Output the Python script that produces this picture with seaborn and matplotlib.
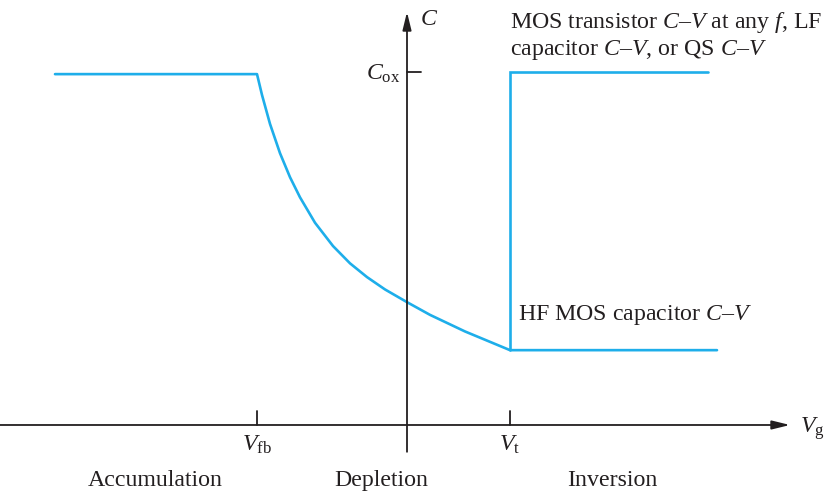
import numpy as np
import pandas as pd
import matplotlib
matplotlib.use("Agg")
import matplotlib.pyplot as plt
import seaborn as sns

# ---- data (Vg in arbitrary units, y-axis at Vg = 0; C normalised to Cox) ----
V_fb = -1.50
V_t = 1.03
C_ox = 1.0
C_min = 0.212

acc_vg = [-3.52, V_fb]
acc_c = [0.994, 0.994]

dep_vg = [-1.50, -1.45, -1.37, -1.27, -1.17, -1.07, -0.92, -0.74,
          -0.57, -0.40, -0.22, 0.0, 0.23, 0.58, 1.03]
dep_c = [0.994, 0.935, 0.853, 0.770, 0.702, 0.645, 0.573, 0.507,
         0.458, 0.419, 0.384, 0.348, 0.312, 0.265, 0.212]

inv_hf_vg = [V_t, 3.10]
inv_hf_c = [C_min, C_min]

lf_vg = [V_t, V_t, 3.01]
lf_c = [C_min, C_ox, C_ox]

region_labels = ["Accumulation", "Depletion", "Inversion"]
region_pos = [-2.52, -0.26, 2.05]

# ---- style ----
sns.set_theme(style="white")
plt.rcParams["font.family"] = ["Liberation Serif", "DejaVu Serif"]
plt.rcParams["mathtext.fontset"] = "custom"
plt.rcParams["mathtext.rm"] = "Liberation Serif"
plt.rcParams["mathtext.it"] = "Liberation Serif:italic"

blue = "#1eaeea"
ink = "#231f20"

fig = plt.figure(figsize=(8.28, 4.91), dpi=100)
ax = fig.add_axes([0, 0, 1, 1])
ax.set_xlim(-4.07, 4.21)
ax.set_ylim(-0.187, 1.204)
ax.axis("off")

hf = pd.DataFrame({
    "Vg": acc_vg + dep_vg[1:] + inv_hf_vg[1:],
    "C": acc_c + dep_c[1:] + inv_hf_c[1:],
})
lf = pd.DataFrame({"Vg": lf_vg, "C": lf_c})

sns.lineplot(data=hf, x="Vg", y="C", sort=False, estimator=None, color=blue,
             lw=1.9, ax=ax, solid_joinstyle="round")
sns.lineplot(data=lf, x="Vg", y="C", sort=False, estimator=None, color=blue,
             lw=1.9, ax=ax, solid_joinstyle="miter")

# axes with arrows
ax.annotate("", xy=(3.83, 0), xytext=(-4.07, 0),
            arrowprops=dict(arrowstyle="-|>,head_length=0.9,head_width=0.22",
                            color=ink, lw=1.3, shrinkA=0, shrinkB=0))
ax.annotate("", xy=(0, 1.17), xytext=(0, -0.076),
            arrowprops=dict(arrowstyle="-|>,head_length=0.9,head_width=0.22",
                            color=ink, lw=1.3, shrinkA=0, shrinkB=0))

# ticks
tick_h = 0.04
for v in [V_fb, V_t]:
    ax.plot([v, v], [0, tick_h], color=ink, lw=1.3)
ax.plot([0, 0.145], [C_ox, C_ox], color=ink, lw=1.3)

fs = 17.2
ax.text(0.13, 1.15, r"$C$", fontsize=fs, ha="left", va="center", color=ink)
ax.text(-0.07, C_ox - 0.005, r"$C_{\mathrm{ox}}$", fontsize=fs, ha="right", va="center", color=ink)
ax.text(V_fb, -0.055, r"$V_{\mathrm{fb}}$", fontsize=fs, ha="center", va="center", color=ink)
ax.text(V_t, -0.055, r"$V_{\mathrm{t}}$", fontsize=fs, ha="center", va="center", color=ink)
ax.text(3.93, -0.01, r"$V_{\mathrm{g}}$", fontsize=fs, ha="left", va="center", color=ink)

for lab, x in zip(region_labels, region_pos):
    ax.text(x, -0.157, lab, fontsize=fs, ha="center", va="center", color=ink)

ax.text(V_t + 0.0, 1.14, r"MOS transistor $C$–$V$ at any $f$, LF",
        fontsize=fs, ha="left", va="center", color=ink)
ax.text(V_t + 0.0, 1.062, r"capacitor $C$–$V$, or QS $C$–$V$",
        fontsize=fs, ha="left", va="center", color=ink)
ax.text(V_t + 0.08, 0.313, r"HF MOS capacitor $C$–$V$",
        fontsize=fs, ha="left", va="center", color=ink)

fig.savefig("out.png", dpi=100)
